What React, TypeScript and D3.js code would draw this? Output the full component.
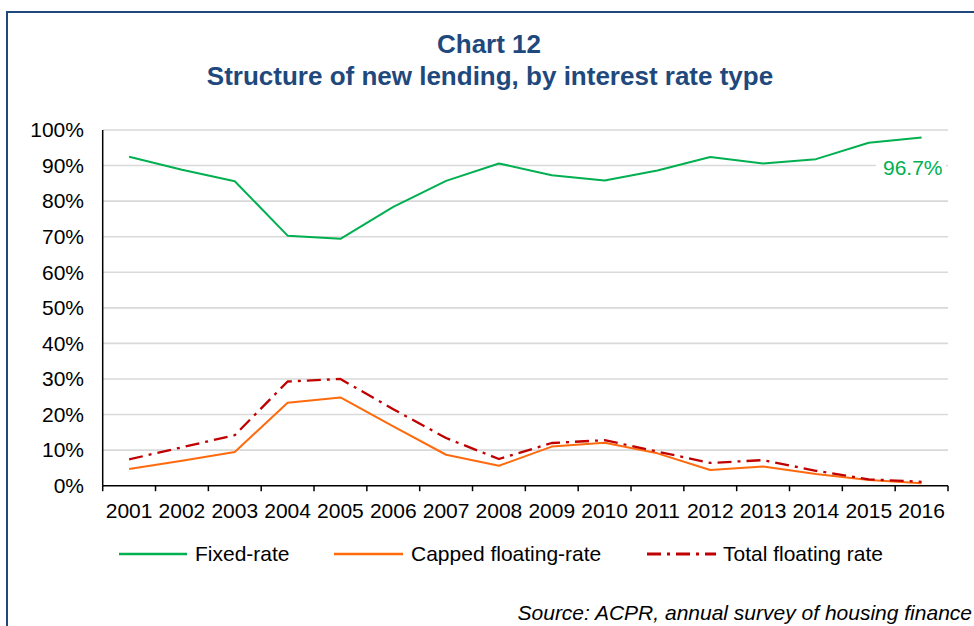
import React from "react";
import * as d3 from "d3";

const years = ["2001","2002","2003","2004","2005","2006","2007","2008","2009","2010","2011","2012","2013","2014","2015","2016"];
const fixedRate = [92.5, 88.8, 85.6, 70.3, 69.4, 78.4, 85.7, 90.6, 87.3, 85.8, 88.6, 92.4, 90.6, 91.8, 96.4, 97.9];
const cappedFloating = [4.7, 7.0, 9.5, 23.3, 24.8, 16.7, 8.7, 5.6, 11.0, 12.1, 9.1, 4.4, 5.4, 3.3, 1.6, 0.7];
const totalFloating = [7.4, 10.8, 14.2, 29.3, 30.0, 21.5, 13.4, 7.5, 12.0, 12.8, 9.6, 6.4, 7.2, 4.2, 1.8, 1.1];
const yTicks = [0, 10, 20, 30, 40, 50, 60, 70, 80, 90, 100];
const seriesNames = ["Fixed-rate", "Capped floating-rate", "Total floating rate"];
const titleLines = ["Chart 12", "Structure of new lending, by interest rate type"];
const annotation = "96.7%";
const sourceText = "Source: ACPR, annual survey of housing finance";

const W = 974;
const H = 626;
const FONT = "Arial, 'Liberation Sans', sans-serif";
const plot = { left: 102.7, right: 948, top: 130, bottom: 485.7 };

export default function App() {
  const x = d3.scaleBand<string>().domain(years).range([plot.left, plot.right]).padding(0);
  const y = d3.scaleLinear().domain([0, 100]).range([plot.bottom, plot.top]);
  const cx = (yr: string) => (x(yr) as number) + x.bandwidth() / 2;
  const line = d3
    .line<number>()
    .x((_, i) => cx(years[i]))
    .y((v) => y(v));

  const boundaries = years.map((yr) => x(yr) as number).concat([plot.right]);

  const series = [
    { name: seriesNames[0], data: fixedRate, color: "#00B050", dash: undefined as string | undefined, width: 2 },
    { name: seriesNames[1], data: cappedFloating, color: "#FF6A0D", dash: undefined, width: 2 },
    { name: seriesNames[2], data: totalFloating, color: "#C00000", dash: "14 6 3 6", width: 2.3 },
  ];

  const legend = [
    { x1: 119, x2: 187, tx: 195 },
    { x1: 334, x2: 403, tx: 411 },
    { x1: 647, x2: 716, tx: 723 },
  ];

  return (
    <svg
      width={W}
      height={H}
      style={{ position: "absolute", left: 0, top: 0, background: "#fff" }}
      fontFamily={FONT}
    >
      <rect x={0} y={0} width={W} height={H} fill="#fff" />
      <rect x={7} y={12} width={W + 20} height={H + 20} fill="none" stroke="#1F497D" strokeWidth={2} />

      <text x={489} y={53} textAnchor="middle" fontSize={26} fontWeight="bold" fill="#1F497D">
        {titleLines[0]}
      </text>
      <text x={490} y={85} textAnchor="middle" fontSize={26} fontWeight="bold" fill="#1F497D">
        {titleLines[1]}
      </text>

      {yTicks.map((t) => (
        <g key={t}>
          {t > 0 && (
            <line x1={plot.left} x2={plot.right} y1={y(t)} y2={y(t)} stroke="#D9D9D9" strokeWidth={1.6} />
          )}
          <text x={84} y={y(t)} dy="0.35em" textAnchor="end" fontSize={21} fill="#000">
            {t}%
          </text>
        </g>
      ))}

      {/* annotation background covering grid */}
      <rect x={876} y={155} width={70} height={24} fill="#fff" />

      <line x1={plot.left} x2={plot.left} y1={plot.top} y2={plot.bottom} stroke="#000" strokeWidth={1.5} />
      <line x1={plot.left} x2={plot.right} y1={plot.bottom} y2={plot.bottom} stroke="#000" strokeWidth={1.5} />
      {boundaries.map((b, i) => (
        <line key={i} x1={b} x2={b} y1={plot.bottom} y2={plot.bottom + 5.5} stroke="#000" strokeWidth={1.5} />
      ))}
      {years.map((yr) => (
        <text key={yr} x={cx(yr)} y={518} textAnchor="middle" fontSize={21} fill="#000">
          {yr}
        </text>
      ))}

      {series.map((s) => (
        <path
          key={s.name}
          d={line(s.data) || ""}
          fill="none"
          stroke={s.color}
          strokeWidth={s.width}
          strokeDasharray={s.dash}
          strokeLinejoin="round"
        />
      ))}

      <text x={883} y={174.5} fontSize={21} fill="#00B050">
        {annotation}
      </text>

      {series.map((s, i) => (
        <g key={s.name}>
          <line
            x1={legend[i].x1}
            x2={legend[i].x2}
            y1={554}
            y2={554}
            stroke={s.color}
            strokeWidth={s.width + 0.5}
            strokeDasharray={s.dash}
          />
          <text x={legend[i].tx} y={561} fontSize={21} fill="#000">
            {s.name}
          </text>
        </g>
      ))}

      <text x={972} y={620} textAnchor="end" fontSize={21} fontStyle="italic" fill="#000">
        {sourceText}
      </text>
    </svg>
  );
}
